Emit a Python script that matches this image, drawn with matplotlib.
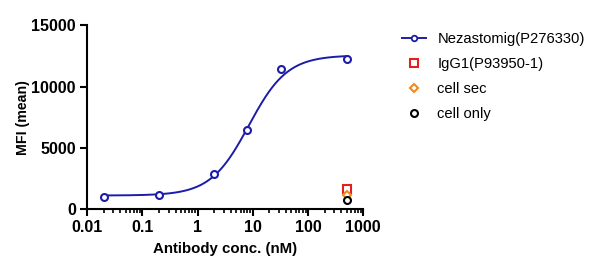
import numpy as np
import matplotlib
matplotlib.use('Agg')
import matplotlib.pyplot as plt
from matplotlib.ticker import LogLocator, NullFormatter, FixedLocator

plt.rcParams['font.family'] = ['Liberation Sans', 'DejaVu Sans']

# --- data ---
conc = [0.02, 0.2, 2, 8, 32, 500]
mfi = [950, 1170, 2830, 6440, 11390, 12250]

ctrl_x = [500]
igg1 = [1600]
cell_sec = [1150]
cell_only = [760]

# 4PL fit (bottom, top, EC50, hill)
FIT_BOTTOM, FIT_TOP, FIT_EC50, FIT_HILL = 1100, 12550, 8.5, 1.25

BLUE = "#1c1ca8"

fig = plt.figure(figsize=(5.98, 2.71), dpi=100)
ax = fig.add_axes([0.1455, 0.2288, 0.462, 0.678])

xs = np.logspace(np.log10(0.02), np.log10(500), 300)
ys = FIT_BOTTOM + (FIT_TOP - FIT_BOTTOM) / (1 + (FIT_EC50 / xs) ** FIT_HILL)
ax.plot(xs, ys, color=BLUE, lw=1.4, zorder=3)
ax.plot(conc, mfi, 'o', ms=5, mfc='white', mec=BLUE, mew=1.5, zorder=4)

ax.plot(ctrl_x, igg1, 's', ms=6, mfc='white', mec='#e32020', mew=1.5, zorder=5)
ax.plot(ctrl_x, cell_sec, 'D', ms=4.5, mfc='white', mec='#f08a1c', mew=1.5, zorder=6)
ax.plot(ctrl_x, cell_only, 'o', ms=5, mfc='white', mec='black', mew=1.5, zorder=7)

# legend handles
h1, = ax.plot([], [], '-o', color=BLUE, ms=4, mfc='white', mec=BLUE, mew=1.3, lw=1.4)
h2, = ax.plot([], [], 's', ms=6, mfc='white', mec='#e32020', mew=1.5)
h3, = ax.plot([], [], 'D', ms=4.5, mfc='white', mec='#f08a1c', mew=1.5)
h4, = ax.plot([], [], 'o', ms=5, mfc='white', mec='black', mew=1.5)
fig.legend([h1, h2, h3, h4],
           ['Nezastomig(P276330)', 'IgG1(P93950-1)', 'cell sec', 'cell only'],
           loc='upper left', bbox_to_anchor=(0.65, 0.93), frameon=False,
           fontsize=10.6, handlelength=1.6, labelspacing=0.74, handletextpad=0.8)

ax.set_xscale('log')
ax.set_xlim(0.01, 1000)
ax.set_ylim(0, 15000)
ax.set_yticks([0, 5000, 10000, 15000])
ax.xaxis.set_major_locator(FixedLocator([0.01, 0.1, 1, 10, 100, 1000]))
ax.set_xticklabels(['0.01', '0.1', '1', '10', '100', '1000'])
ax.xaxis.set_minor_locator(LogLocator(base=10, subs=np.arange(2, 10)))
ax.xaxis.set_minor_formatter(NullFormatter())

for s in ['top', 'right']:
    ax.spines[s].set_visible(False)
for s in ['left', 'bottom']:
    ax.spines[s].set_linewidth(1.5)
ax.tick_params(axis='both', which='major', width=1.5, length=5, labelsize=11.5, pad=3)
ax.tick_params(axis='x', which='minor', width=1.2, length=3)
for lab in ax.get_xticklabels() + ax.get_yticklabels():
    lab.set_fontweight('bold')

ax.set_xlabel('Antibody conc. (nM)', fontsize=10.8, fontweight='bold', labelpad=5)
ax.set_ylabel('MFI (mean)', fontsize=10.2, fontweight='bold', labelpad=1)

fig.savefig('out.png', dpi=100, facecolor='white')
